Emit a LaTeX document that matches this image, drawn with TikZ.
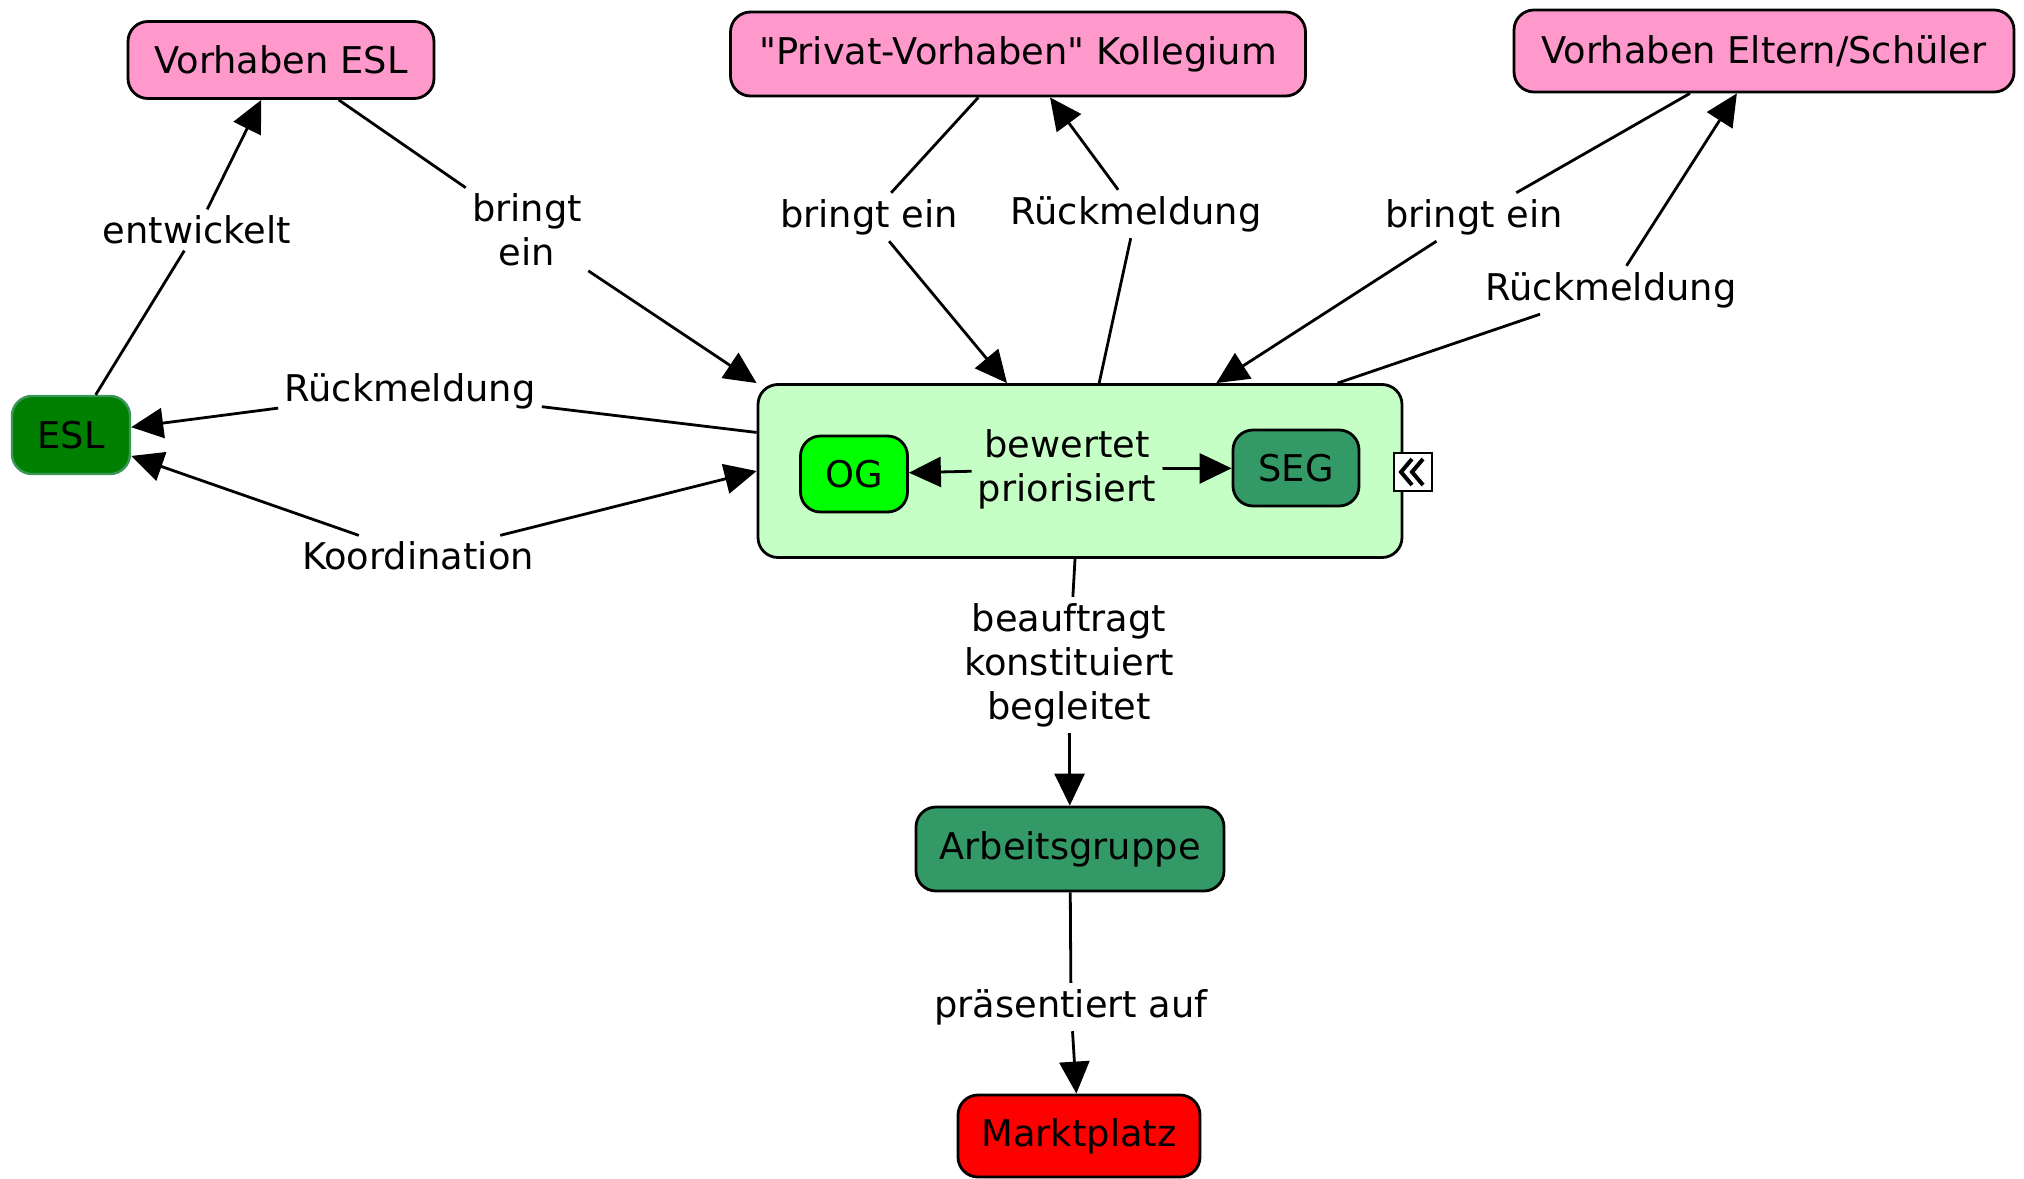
\documentclass[tikz,border=0pt]{standalone}
\usepackage{fontspec}
\setmainfont{DejaVu Sans}[Ligatures=TeXOff]
\usetikzlibrary{arrows.meta,calc}

\definecolor{rosa}{RGB}{255,153,204}
\definecolor{hellgruen}{RGB}{198,255,198}
\definecolor{knallgruen}{RGB}{0,255,0}
\definecolor{seegruen}{RGB}{51,153,102}
\definecolor{dunkelgruen}{RGB}{0,128,0}
\definecolor{eslrand}{RGB}{60,150,90}

\tikzset{
  konzept/.style={draw, line width=1.4pt, rounded corners=10pt, inner sep=0pt},
  verb/.style={align=center, inner sep=3pt},
  linie/.style={line width=1.4pt},
  pfeil/.style={line width=1.4pt, -{Triangle[length=16pt,width=15pt]}}
}

\begin{document}
\begin{tikzpicture}[x=0.5pt, y=-0.5pt, font=\fontsize{18.4}{22}\selectfont]
    \useasboundingbox (0,0) rectangle (2024,1178);

    % Vorhaben oben
    \node[konzept, fill=rosa, minimum width=153pt, minimum height=38.5pt] (vorhaben_esl) at (281,60) {Vorhaben ESL};
    \node[konzept, fill=rosa, minimum width=287.5pt, minimum height=42pt] (vorhaben_privat) at (1018,54) {"Privat-Vorhaben" Kollegium};
    \node[konzept, fill=rosa, minimum width=250pt, minimum height=41pt] (vorhaben_eltern) at (1764,51) {Vorhaben Eltern/Schüler};

    % ESL
    \node[draw=eslrand, line width=1.2pt, rounded corners=10pt, fill=dunkelgruen, minimum width=59pt, minimum height=39pt, inner sep=0pt] (esl) at (71,435) {ESL};

    % Gremien-Kasten mit OG und SEG
    \node[konzept, fill=hellgruen, minimum width=322pt, minimum height=86.5pt] (gremien_box) at (1080,471) {};
    \node[konzept, fill=knallgruen, minimum width=53.5pt, minimum height=38pt] (og) at (854,474) {OG};
    \node[konzept, fill=seegruen, minimum width=63pt, minimum height=38pt] (seg) at (1296,468) {SEG};
    \node[draw, fill=white, line width=1pt, minimum size=19pt, inner sep=0pt] (icon) at (1413,472) {};
    \draw[line width=2pt] ($(icon.center)+(-1,-13)$) -- ($(icon.center)+(-12,0)$) -- ($(icon.center)+(-1,13)$);
    \draw[line width=2pt] ($(icon.center)+(10,-13)$) -- ($(icon.center)+(-1,0)$) -- ($(icon.center)+(10,13)$);

    % Arbeitsgruppe und Marktplatz
    \node[konzept, fill=seegruen, minimum width=154pt, minimum height=42pt] (arbeitsgruppe) at (1070,849) {Arbeitsgruppe};
    \node[konzept, fill=red, minimum width=121pt, minimum height=41pt] (marktplatz) at (1079,1136) {Marktplatz};

    % Verbindungswoerter
    \node[verb] (v_entwickelt) at (197,230) {entwickelt};
    \node[verb] (v_bringt_esl) at (527,230) {bringt\\ein};
    \node[verb] (v_bringt_privat) at (869,217) {bringt ein};
    \node[verb] (v_rueck_privat) at (1136,214) {Rückmeldung};
    \node[verb] (v_bringt_eltern) at (1474,217) {bringt ein};
    \node[verb] (v_rueck_eltern) at (1611,290) {Rückmeldung};
    \node[verb] (v_rueck_esl) at (410,391) {Rückmeldung};
    \node[verb] (v_koordination) at (418,556) {Koordination};
    \node[verb] (v_bewertet) at (1067,469) {bewertet\\priorisiert};
    \node[verb] (v_beauftragt) at (1069,665) {beauftragt\\konstituiert\\begleitet};
    \node[verb] (v_praesentiert) at (1071,1007) {präsentiert auf};

    % Pfeile
    \draw[linie] (esl) -- (v_entwickelt);
    \draw[pfeil] (v_entwickelt) -- (vorhaben_esl);
    \draw[linie] (vorhaben_esl) -- (v_bringt_esl);
    \draw[pfeil] (v_bringt_esl) -- (gremien_box.north west);
    \draw[linie] (vorhaben_privat) -- (v_bringt_privat);
    \draw[pfeil] (v_bringt_privat) -- (gremien_box);
    \draw[linie] (gremien_box) -- (v_rueck_privat);
    \draw[pfeil] (v_rueck_privat) -- (vorhaben_privat);
    \draw[linie] (vorhaben_eltern) -- (v_bringt_eltern);
    \draw[pfeil] (v_bringt_eltern) -- (gremien_box);
    \draw[linie] (gremien_box) -- (v_rueck_eltern);
    \draw[pfeil] (v_rueck_eltern) -- (vorhaben_eltern);
    \draw[linie] (gremien_box) -- (v_rueck_esl);
    \draw[pfeil] (v_rueck_esl) -- (esl);
    \draw[pfeil] (v_koordination) -- (esl);
    \draw[pfeil] (v_koordination) -- (gremien_box.west);
    \draw[pfeil] (v_bewertet) -- (og);
    \draw[pfeil] (v_bewertet) -- (seg);
    \draw[linie] (gremien_box) -- (v_beauftragt);
    \draw[pfeil] (v_beauftragt) -- (arbeitsgruppe);
    \draw[linie] (arbeitsgruppe) -- (v_praesentiert);
    \draw[pfeil] (v_praesentiert) -- (marktplatz);
\end{tikzpicture}
\end{document}
